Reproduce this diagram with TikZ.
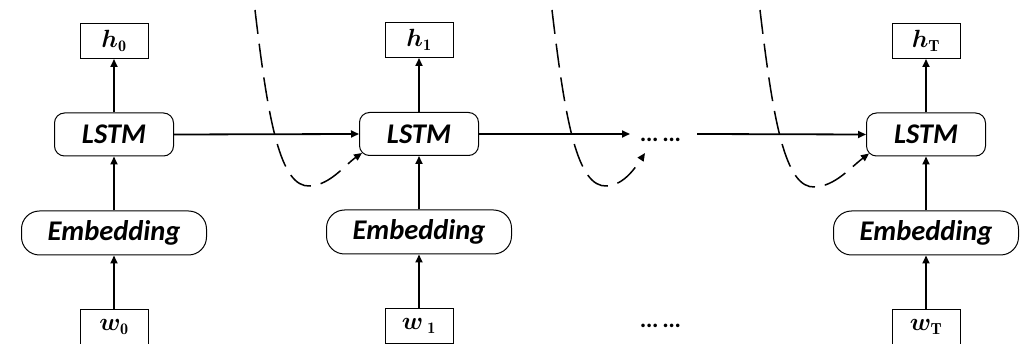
\documentclass[tikz,border=0pt]{standalone}
\usepackage{fontspec}
\usepackage{bm}
\newfontfamily\carlito{Carlito}
\usetikzlibrary{arrows.meta}
\begin{document}
\begin{tikzpicture}[x=1pt,y=-1pt,
  lbl/.style={draw,line width=1pt,minimum width=68pt,minimum height=35pt,inner sep=0pt,font=\fontsize{23}{26}\selectfont},
  lstm/.style={draw,line width=1pt,rounded corners=10pt,minimum width=119pt,minimum height=43pt,inner sep=0pt,font=\carlito\bfseries\itshape\fontsize{28.5}{32}\selectfont},
  emb/.style={lstm,rounded corners=18pt,minimum width=185pt,minimum height=44pt},
  dotsty/.style={font=\carlito\bfseries\itshape\fontsize{24}{28}\selectfont,anchor=base,inner sep=0pt},
  arr/.style={line width=1.8pt,-{Triangle[length=8pt,width=7pt]}},
  rec/.style={line width=1.5pt,dash pattern=on 24pt off 10pt,-{Triangle[length=8pt,width=7pt]}},
]
\useasboundingbox (0,0) rectangle (1023,344);
% column 0
\node[lbl] (h0) at (114,41) {$\bm{h}_{\mathbf{0}}$};
\node[lstm] (L0) at (114,134.5) {LSTM};
\node[emb] (E0) at (114,233) {Embedding};
\node[lbl] (w0) at (114,327) {$\bm{w}_{\mathbf{0}}$};
% column 1
\node[lbl] (h1) at (419,40) {$\bm{h}_{\mathbf{1}}$};
\node[lstm] (L1) at (419,134) {LSTM};
\node[emb] (E1) at (419,232) {Embedding};
\node[lbl] (w1) at (419,326) {$\bm{w}\,_{\mathbf{1}}$};
% column T
\node[lbl] (hT) at (926,41) {$\bm{h}_{\mathbf{T}}$};
\node[lstm] (LT) at (926,134.5) {LSTM};
\node[emb] (ET) at (926,233) {Embedding};
\node[lbl] (wT) at (926,327) {$\bm{w}_{\mathbf{T}}$};
% dots
\node[dotsty] (dots) at (661,142) {… …};
\node[dotsty] (dotsb) at (661,328) {… …};
\coordinate (dA) at (630,134);
\coordinate (dB) at (697,134);
% vertical arrows
\foreach \c in {0,1,T}{
  \draw[arr] (w\c) -- (E\c);
  \draw[arr] (E\c) -- (L\c);
  \draw[arr] (L\c) -- (h\c);
}
% horizontal arrows
\draw[arr] (L0.east) -- (L1.west);
\draw[arr] (L1.east) -- (dA);
\draw[arr] (dB) -- (LT.west);
% recurrent dashed curves
\coordinate (s1) at (255,10);
\coordinate (s2) at (552,10);
\coordinate (s3) at (760,10);
\coordinate (e2) at (645,153);
\draw[rec] (s1) .. controls (268,120) and (280,188) .. (310,186) .. controls (330,185) and (345,165) .. ([shift={(3,-3)}]L1.south west);
\draw[rec] (s2) .. controls (565,120) and (577,188) .. (607,186) .. controls (625,185) and (637,165) .. (e2);
\draw[rec] (s3) .. controls (773,120) and (785,189) .. (815,187) .. controls (835,186) and (850,168) .. ([shift={(3,-3)}]LT.south west);
\end{tikzpicture}
\end{document}
